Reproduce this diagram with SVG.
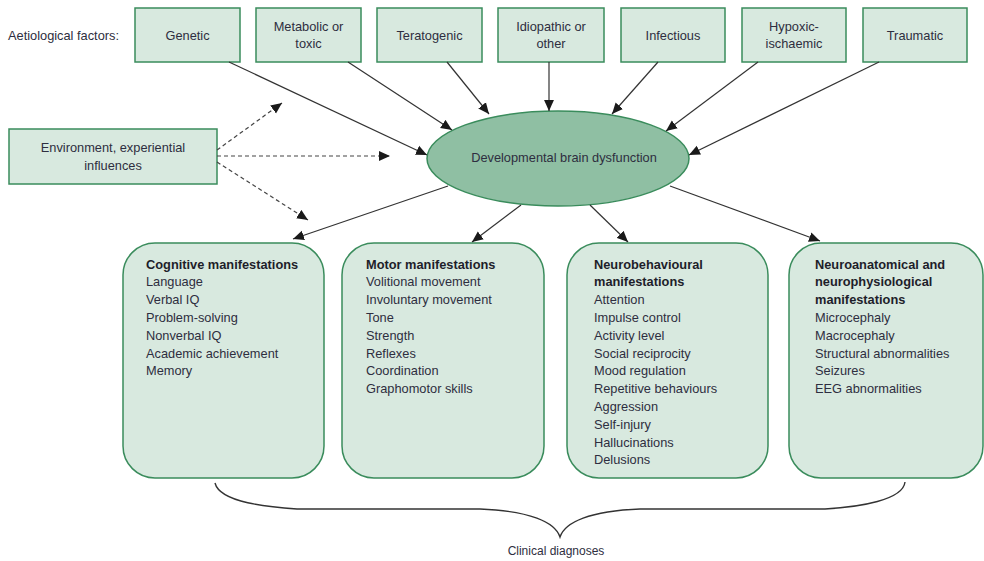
<svg xmlns="http://www.w3.org/2000/svg" width="984" height="561" viewBox="0 0 984 561">
<style>
text{font-family:"Liberation Sans",Arial,sans-serif;font-size:12.8px;fill:#2e2e40}
.c{text-anchor:middle}
.b{font-weight:bold;fill:#1e1e2a}
.box{fill:#d8e9df;stroke:#3a8c5c;stroke-width:1.5}
.rbox{fill:#d8e9df;stroke:#3a8c5c;stroke-width:1.5}
.ell{fill:#8fbfa3;stroke:#3a8c5c;stroke-width:1.5}
.ln{stroke:#333;stroke-width:1.2;fill:none}
.dl{stroke:#444;stroke-width:1.2;fill:none;stroke-dasharray:4 3}
.br{stroke:#333;stroke-width:1.4;fill:none}
</style>
<defs>
<marker id="ah" viewBox="0 0 10 10" refX="10" refY="5" markerWidth="11" markerHeight="11" markerUnits="userSpaceOnUse" orient="auto">
<path d="M0,0.5 L10,5 L0,9.5 Z" fill="#1a1a1a"/>
</marker>
</defs>
<text x="8" y="39.5">Aetiological factors:</text>
<g id="genetic"><rect class="box" x="135" y="8" width="105" height="54"/><text class="c" x="187.5" y="39.5">Genetic</text></g>
<g id="metabolic"><rect class="box" x="256" y="8" width="105" height="54"/><text class="c" x="308.5" y="30.5">Metabolic or</text><text class="c" x="308.5" y="47.5">toxic</text></g>
<g id="teratogenic"><rect class="box" x="377" y="8" width="105" height="54"/><text class="c" x="429.5" y="39.5">Teratogenic</text></g>
<g id="idiopathic"><rect class="box" x="498" y="8" width="106" height="54"/><text class="c" x="551" y="30.5">Idiopathic or</text><text class="c" x="551" y="47.5">other</text></g>
<g id="infectious"><rect class="box" x="621" y="8" width="104" height="54"/><text class="c" x="673" y="39.5">Infectious</text></g>
<g id="hypoxic"><rect class="box" x="742" y="8" width="104" height="54"/><text class="c" x="794" y="30.5">Hypoxic-</text><text class="c" x="794" y="47.5">ischaemic</text></g>
<g id="traumatic"><rect class="box" x="863" y="8" width="104" height="54"/><text class="c" x="915" y="39.5">Traumatic</text></g>
<g id="environment"><rect class="box" x="9" y="129" width="208" height="55"/><text class="c" x="113" y="151.5">Environment, experiential</text><text class="c" x="113" y="169.5">influences</text></g>
<g id="dbd"><ellipse class="ell" cx="558" cy="158.5" rx="131" ry="47.5"/><text class="c" x="564" y="162">Developmental brain dysfunction</text></g>
<g id="cognitive"><rect class="rbox" x="123" y="243" width="201" height="235" rx="32"/>
<text x="146" y="268.5" class="b">Cognitive manifestations</text>
<text x="146" y="286.3">Language</text>
<text x="146" y="304.1">Verbal IQ</text>
<text x="146" y="321.9">Problem-solving</text>
<text x="146" y="339.7">Nonverbal IQ</text>
<text x="146" y="357.5">Academic achievement</text>
<text x="146" y="375.3">Memory</text>
</g>
<g id="motor"><rect class="rbox" x="342" y="243" width="202" height="235" rx="32"/>
<text x="366" y="268.5" class="b">Motor manifestations</text>
<text x="366" y="286.3">Volitional movement</text>
<text x="366" y="304.1">Involuntary movement</text>
<text x="366" y="321.9">Tone</text>
<text x="366" y="339.7">Strength</text>
<text x="366" y="357.5">Reflexes</text>
<text x="366" y="375.3">Coordination</text>
<text x="366" y="393.1">Graphomotor skills</text>
</g>
<g id="neurobehavioural"><rect class="rbox" x="567" y="243" width="201" height="235" rx="32"/>
<text x="594" y="268.5" class="b">Neurobehavioural</text>
<text x="594" y="286.3" class="b">manifestations</text>
<text x="594" y="304.1">Attention</text>
<text x="594" y="321.9">Impulse control</text>
<text x="594" y="339.7">Activity level</text>
<text x="594" y="357.5">Social reciprocity</text>
<text x="594" y="375.3">Mood regulation</text>
<text x="594" y="393.1">Repetitive behaviours</text>
<text x="594" y="410.9">Aggression</text>
<text x="594" y="428.7">Self-injury</text>
<text x="594" y="446.5">Hallucinations</text>
<text x="594" y="464.3">Delusions</text>
</g>
<g id="neuroanatomical"><rect class="rbox" x="789" y="243" width="194" height="235" rx="32"/>
<text x="815" y="268.5" class="b">Neuroanatomical and</text>
<text x="815" y="286.3" class="b">neurophysiological</text>
<text x="815" y="304.1" class="b">manifestations</text>
<text x="815" y="321.9">Microcephaly</text>
<text x="815" y="339.7">Macrocephaly</text>
<text x="815" y="357.5">Structural abnormalities</text>
<text x="815" y="375.3">Seizures</text>
<text x="815" y="393.1">EEG abnormalities</text>
</g>
<g id="connectors">
<line class="ln" x1="229" y1="62" x2="427" y2="155" marker-end="url(#ah)"/>
<line class="ln" x1="348" y1="62" x2="452" y2="130" marker-end="url(#ah)"/>
<line class="ln" x1="447" y1="62" x2="489" y2="114" marker-end="url(#ah)"/>
<line class="ln" x1="549" y1="62" x2="549" y2="111" marker-end="url(#ah)"/>
<line class="ln" x1="658" y1="62" x2="612" y2="114" marker-end="url(#ah)"/>
<line class="ln" x1="758" y1="62" x2="666" y2="131" marker-end="url(#ah)"/>
<line class="ln" x1="879" y1="62" x2="689" y2="155" marker-end="url(#ah)"/>
<line class="ln" x1="448" y1="186" x2="293" y2="239" marker-end="url(#ah)"/>
<line class="ln" x1="521" y1="205" x2="472" y2="242" marker-end="url(#ah)"/>
<line class="ln" x1="590" y1="205" x2="628" y2="242" marker-end="url(#ah)"/>
<line class="ln" x1="670" y1="186" x2="820" y2="241" marker-end="url(#ah)"/>
<line class="dl" x1="217" y1="150" x2="282" y2="103" marker-end="url(#ah)"/>
<line class="dl" x1="217" y1="156" x2="390" y2="156" marker-end="url(#ah)"/>
<line class="dl" x1="217" y1="162" x2="308" y2="220" marker-end="url(#ah)"/>
<path class="br" d="M215,483 C220,503 270,507 297,509 L480,509 C530,511 555,522 560,537 C565,522 590,511 640,509 L825,509 C860,507 903,500 905,482"/>
</g>
<text class="c" x="556" y="555" style="font-size:12px">Clinical diagnoses</text>
</svg>
